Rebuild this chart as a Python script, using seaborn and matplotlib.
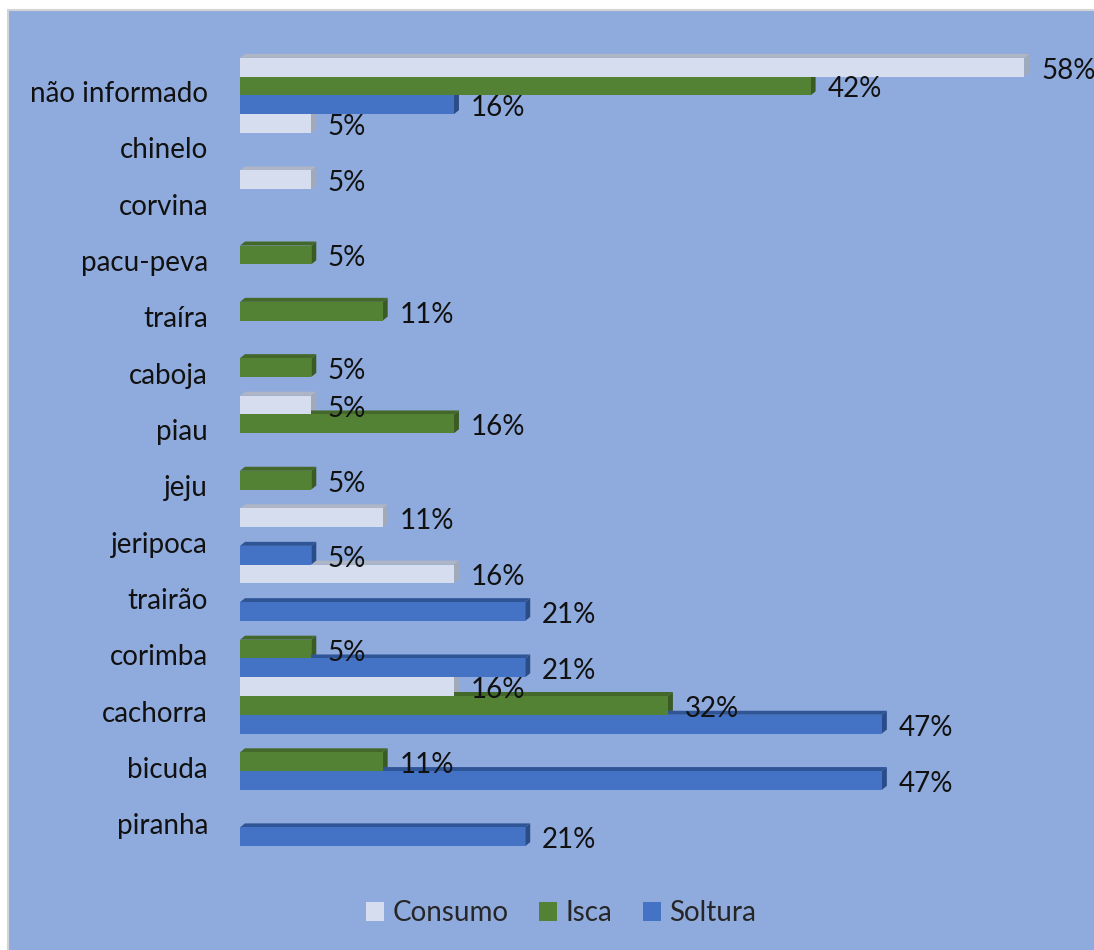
import numpy as np
import pandas as pd
import matplotlib
matplotlib.use("Agg")
import matplotlib.pyplot as plt
from matplotlib.patches import Polygon, Rectangle, Patch
import seaborn as sns

# ---------------- data ----------------
categories = ["não informado", "chinelo", "corvina", "pacu-peva", "traíra", "caboja",
              "piau", "jeju", "jeripoca", "trairão", "corimba", "cachorra", "bicuda", "piranha"]
series = ["Consumo", "Isca", "Soltura"]
consumo = [57.89, 5.26, 5.26, None, None, None, 5.26, None, 10.53, 15.79, None, 15.79, None, None]
isca = [42.11, None, None, 5.26, 10.53, 5.26, 15.79, 5.26, None, None, 5.26, 31.58, 10.53, None]
soltura = [15.79, None, None, None, None, None, None, None, 5.26, 21.05, 21.05, 47.37, 47.37, 21.05]

rows = []
for name, vals in zip(series, [consumo, isca, soltura]):
    for cat, v in zip(categories, vals):
        if v is not None:
            rows.append({"especie": cat, "uso": name, "pct": v})
df = pd.DataFrame(rows)

# ---------------- style ----------------
W, H = 1094, 950
DPI = 100
bg = "#8FAADC"
front = {"Consumo": "#D6DDEE", "Isca": "#548235", "Soltura": "#4472C4"}
topc = {"Consumo": "#AEB6C6", "Isca": "#43682A", "Soltura": "#2F5597"}
sidec = {"Consumo": "#A2AABA", "Isca": "#3A5C24", "Soltura": "#2A4D8A"}

sns.set_style("white")
plt.rcParams["font.family"] = ["Lato", "DejaVu Sans"]
FS = 20

fig = plt.figure(figsize=(W / DPI, H / DPI), dpi=DPI, facecolor="white")
fig.patches.append(Rectangle((8 / W, -0.02), 1.05, 1 - 10 / H + 0.02, transform=fig.transFigure,
                             facecolor=bg, edgecolor="#D4D4D4", lw=1.5, zorder=-5))

left_px, right_px = 240, 240 + 60 * 13.55
top_px, bot_px = 86 - 28.15, 818 + 28.15
ax = fig.add_axes([left_px / W, 1 - bot_px / H, (right_px - left_px) / W, (bot_px - top_px) / H])
ax.set_facecolor("none")
ax.set_zorder(2)

sns.barplot(data=df, y="especie", x="pct", hue="uso", order=categories, hue_order=series,
            palette=front, orient="h", width=1.0, dodge=True, legend=False,
            saturation=1, linewidth=0, ax=ax, zorder=3)

ax.set_xlim(0, 60)
ax.set_ylim(len(categories) - 0.5, -0.5)

# 3D faces (offsets in pixels converted to data units)
px_x = ax.bbox.width / 60.0
px_y = ax.bbox.height / len(categories)
dx = 5.0 / px_x
dy = 4.0 / px_y
for name, cont in zip(series, ax.containers):
    for p in cont:
        x0, x1 = p.get_x(), p.get_x() + p.get_width()
        yt, yb = p.get_y(), p.get_y() + p.get_height()
        if not np.isfinite(x1) or p.get_width() <= 0:
            continue
        ax.add_patch(Polygon([(x0, yt), (x1, yt), (x1 + dx, yt - dy), (x0 + dx, yt - dy)],
                             closed=True, facecolor=topc[name], edgecolor="none", zorder=2, clip_on=False))
        ax.add_patch(Polygon([(x1, yt), (x1 + dx, yt - dy), (x1 + dx, yb - dy), (x1, yb)],
                             closed=True, facecolor=sidec[name], edgecolor="none", zorder=2, clip_on=False))
    anns = ax.bar_label(cont, fmt="%.0f%%", padding=12, fontsize=FS, color="#111111")
    for a in anns:
        a.xyann = (12, -2.5)

# axes cosmetics
for s in ax.spines.values():
    s.set_visible(False)
ax.set_xticks([])
ax.set_yticks(np.arange(len(categories)) + 0.1)
ax.set_yticklabels(categories, fontsize=FS, color="#111111")
ax.tick_params(axis="y", length=0, pad=23)
ax.set_xlabel("")
ax.set_ylabel("")

handles = [Patch(facecolor=front[s], edgecolor="none", label=s) for s in series]
fig.legend(handles=handles, loc="center", bbox_to_anchor=(561 / W, 1 - 913 / H), ncol=3,
           frameon=False, fontsize=FS, handlelength=0.65, handleheight=0.65,
           handletextpad=0.3, columnspacing=1.1)

fig.savefig("out.png", dpi=DPI, facecolor="white")
